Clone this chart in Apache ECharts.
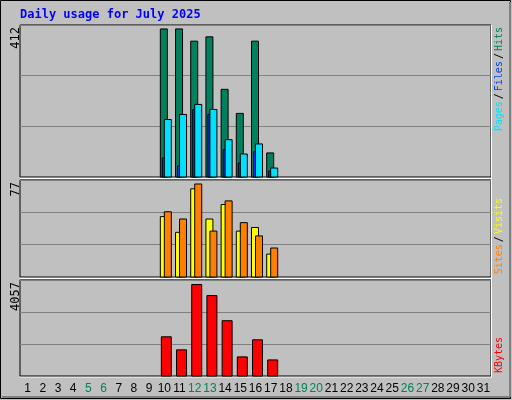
<!DOCTYPE html>
<html><head><meta charset="utf-8">
<script src="https://cdn.jsdelivr.net/npm/echarts@6/dist/echarts.min.js"></script>
<style>html,body{margin:0;padding:0;background:#c0c0c0}#c{width:512px;height:400px}</style>
</head><body><div id="c"></div>
<script>
const days = Array.from({length:31},(_,i)=>String(i+1));
const weekendDays = ['5','6','12','13','19','20','26','27'];
const N = null;
const hits   = [N,N,N,N,N,N,N,N,N,412,412,378,390,244,177,378,67,N,N,N,N,N,N,N,N,N,N,N,N,N,N];
const files  = [N,N,N,N,N,N,N,N,N,53,31,188,174,76,39,70,17,N,N,N,N,N,N,N,N,N,N,N,N,N,N];
const pages  = [N,N,N,N,N,N,N,N,N,160,174,202,188,104,64,92,25,N,N,N,N,N,N,N,N,N,N,N,N,N,N];
const visits = [N,N,N,N,N,N,N,N,N,50,37,73,48,60,38,41,19,N,N,N,N,N,N,N,N,N,N,N,N,N,N];
const sites  = [N,N,N,N,N,N,N,N,N,54,48,77,38,63,45,34,24,N,N,N,N,N,N,N,N,N,N,N,N,N,N];
const kbytes = [N,N,N,N,N,N,N,N,N,1739,1160,4057,3567,2452,847,1605,713,N,N,N,N,N,N,N,N,N,N,N,N,N,N];
const maxLabels = ['412','77','4057'];

function barSeries(data, gi, x0, x1, color){
  return {type:'custom', xAxisIndex:gi, yAxisIndex:gi, data:data.map((v,i)=>[i,v]),
    renderItem:(params,api)=>{
      const v=api.value(1); if(v==null||isNaN(v)) return;
      const top=api.coord([api.value(0),v]); const bot=api.coord([api.value(0),0]);
      return {type:'rect', shape:{x:top[0]+x0, y:top[1], width:x1-x0, height:bot[1]-top[1]},
        style:{fill:color, stroke:'#000', lineWidth:1}};
    }};
}
const grids=[{left:20,right:21,top:25,height:152},{left:20,right:21,top:180,height:97},{left:20,right:21,top:280,height:96}];
const ymax=[423,80.3,4258];
const F='10px "DejaVu Sans Mono"';
const chart=echarts.init(document.getElementById('c'));
chart.setOption({
  backgroundColor:'#c0c0c0', animation:false,
  grid:grids.map(g=>Object.assign({show:true,borderColor:'#000',borderWidth:1,backgroundColor:'#c0c0c0'},g)),
  xAxis:grids.map((g,i)=>({type:'category',gridIndex:i,data:days,boundaryGap:true,
    axisLine:{show:false},axisTick:{show:false},
    axisLabel:{show:i===2,margin:7,fontSize:12,fontFamily:'Liberation Sans',interval:0,
      color:(v)=>weekendDays.includes(v)?'#00805c':'#000'}})),
  yAxis:grids.map((g,i)=>({type:'value',gridIndex:i,min:0,max:ymax[i],interval:ymax[i]/3,
    axisLabel:{show:false},axisLine:{show:false},axisTick:{show:false},
    splitLine:{lineStyle:{color:'#808080',width:1}}})),
  series:[
    barSeries(hits,0,-4,3,'#00805c'),
    barSeries(files,0,-2,1,'#0040ff'),
    barSeries(pages,0,0,7,'#00e0ff'),
    barSeries(visits,1,-4,3,'#ffff00'),
    barSeries(sites,1,0,7,'#ff8000'),
    barSeries(kbytes,2,-3,7,'#ff0000')
  ],
  graphic:[
    {type:'rect',shape:{x:0.5,y:0.5,width:510,height:398},style:{fill:null,stroke:'#000',lineWidth:1},z:-1},
    {type:'line',shape:{x1:2,y1:397,x2:510,y2:397},style:{stroke:'#808080',lineWidth:2}},
    {type:'line',shape:{x1:510,y1:2,x2:510,y2:397},style:{stroke:'#808080',lineWidth:2}},
    {type:'line',shape:{x1:20,y1:178.5,x2:491,y2:178.5},style:{stroke:'#fff',lineWidth:1}},
    {type:'line',shape:{x1:20,y1:278.5,x2:491,y2:278.5},style:{stroke:'#fff',lineWidth:1}},
    {type:'line',shape:{x1:491.5,y1:25,x2:491.5,y2:377},style:{stroke:'#fff',lineWidth:1}},
    {type:'line',shape:{x1:20,y1:377,x2:492,y2:377},style:{stroke:'#fff',lineWidth:1}},
    {type:'text',x:20,y:15,style:{text:'Daily usage for July 2025',fill:'#0000ff',font:'bold 12px "DejaVu Sans Mono"',verticalAlign:'middle'}},
    {type:'text',x:16,y:27,rotation:Math.PI/2,style:{text:maxLabels[0],fill:'#000',font:'12px "DejaVu Sans Mono"',align:'right',verticalAlign:'middle'}},
    {type:'text',x:16,y:182,rotation:Math.PI/2,style:{text:maxLabels[1],fill:'#000',font:'12px "DejaVu Sans Mono"',align:'right',verticalAlign:'middle'}},
    {type:'text',x:16,y:282,rotation:Math.PI/2,style:{text:maxLabels[2],fill:'#000',font:'12px "DejaVu Sans Mono"',align:'right',verticalAlign:'middle'}},
    {type:'text',x:499,y:27,rotation:Math.PI/2,style:{text:'{a|Pages}{s|/}{b|Files}{s|/}{c|Hits}',align:'right',verticalAlign:'middle',
      font:F,rich:{a:{fill:'#00e0ff',font:F},b:{fill:'#0040ff',font:F},c:{fill:'#00805c',font:F},s:{fill:'#000',font:F,padding:[0,2]}}}},
    {type:'text',x:499,y:198,rotation:Math.PI/2,style:{text:'{a|Sites}{s|/}{b|Visits}',align:'right',verticalAlign:'middle',
      font:F,rich:{a:{fill:'#ff8000',font:F},b:{fill:'#ffff00',font:F},s:{fill:'#000',font:F,padding:[0,2]}}}},
    {type:'text',x:499,y:337,rotation:Math.PI/2,style:{text:'KBytes',fill:'#ff0000',align:'right',verticalAlign:'middle',font:F}}
  ]
});
</script></body></html>
